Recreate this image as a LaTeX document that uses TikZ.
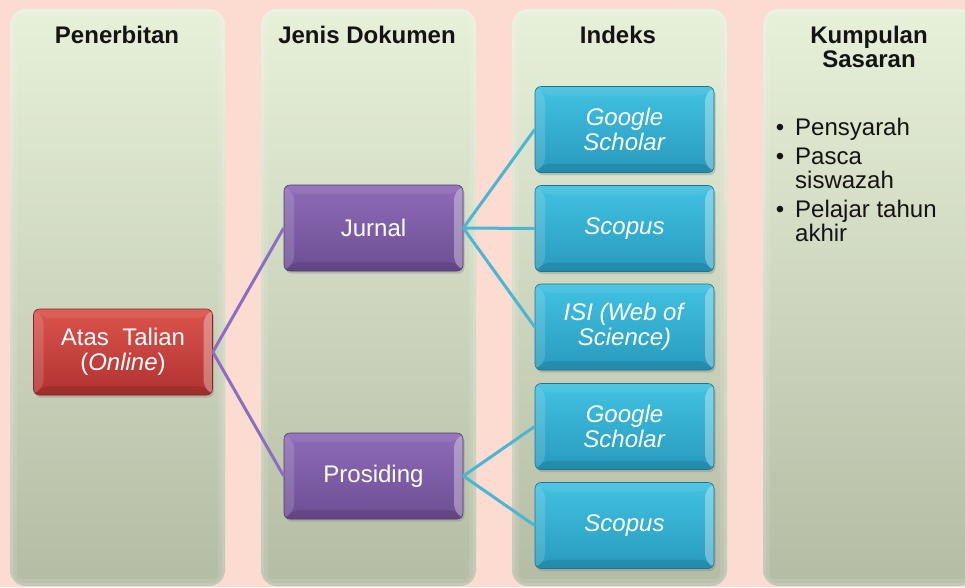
\documentclass[tikz,border=0pt]{standalone}
\usepackage{fontspec}
\setmainfont{Liberation Sans}
\usetikzlibrary{shadows}
\definecolor{bgpink}{RGB}{252,219,209}
\definecolor{coltop}{RGB}{231,240,216}
\definecolor{colbot}{RGB}{180,188,164}
\definecolor{redtop}{RGB}{220,84,78}
\definecolor{redbot}{RGB}{176,50,48}
\definecolor{purtop}{RGB}{143,108,183}
\definecolor{purbot}{RGB}{108,78,148}
\definecolor{cyantop}{RGB}{66,194,226}
\definecolor{cyanbot}{RGB}{40,154,190}
\definecolor{purline}{RGB}{140,110,192}
\definecolor{cyanline}{RGB}{74,182,212}
\tikzset{
  colbox/.style={rounded corners=16pt, top color=coltop, bottom color=colbot},
  colglowa/.style={draw=white, draw opacity=0.10, line width=14pt, rounded corners=11pt},
  colglowb/.style={draw=white, draw opacity=0.12, line width=6pt, rounded corners=14pt},
  hdr/.style={font=\fontsize{24}{24}\selectfont\bfseries, anchor=base, text=black!92, inner sep=0pt},
  itm/.style={font=\fontsize{24}{24}\selectfont, text=black!92, inner sep=0pt},
  bevelbox/.style={rounded corners=6pt, minimum width=179pt, minimum height=86pt,
    inner sep=0pt, text=white, align=center,
    font=\fontsize{24}{25}\selectfont,
    drop shadow={shadow xshift=1.5pt, shadow yshift=-2.5pt, opacity=0.35},
    path picture={
      \fill[white, opacity=0.14] (path picture bounding box.north west)
        -- ([shift={(10pt,-9pt)}]path picture bounding box.north west)
        -- ([shift={(10pt,9pt)}]path picture bounding box.south west)
        -- (path picture bounding box.south west) -- cycle;
      \fill[white, opacity=0.33] (path picture bounding box.north east)
        -- ([shift={(-9pt,-9pt)}]path picture bounding box.north east)
        -- ([shift={(-9pt,9pt)}]path picture bounding box.south east)
        -- (path picture bounding box.south east) -- cycle;
      \fill[white, opacity=0.07] (path picture bounding box.north west)
        -- (path picture bounding box.north east)
        -- ([shift={(-9pt,-9pt)}]path picture bounding box.north east)
        -- ([shift={(10pt,-9pt)}]path picture bounding box.north west) -- cycle;
      \fill[black, opacity=0.10] (path picture bounding box.south west)
        -- (path picture bounding box.south east)
        -- ([shift={(-9pt,9pt)}]path picture bounding box.south east)
        -- ([shift={(10pt,9pt)}]path picture bounding box.south west) -- cycle;
    }},
  redbox/.style={bevelbox, top color=redtop, bottom color=redbot, draw=redbot!75!black, line width=0.6pt},
  purbox/.style={bevelbox, top color=purtop, bottom color=purbot, draw=purbot!75!black, line width=0.6pt},
  cyanbox/.style={bevelbox, top color=cyantop, bottom color=cyanbot, draw=cyanbot!75!black, line width=0.6pt},
  purcon/.style={draw=purline, line width=3pt},
  cyancon/.style={draw=cyanline, line width=3pt},
}
\begin{document}
\begin{tikzpicture}[x=1pt, y=-1pt]
  \useasboundingbox (0,0) rectangle (965,587);
  \clip (0,0) rectangle (965,587);
  \fill[bgpink] (0,0) rectangle (965,587);
  % columns
  \path[colbox] (10,9) rectangle (225,586);
  \path[colbox] (261,9) rectangle (476,586);
  \path[colbox] (512,9) rectangle (727,586);
  \path[colbox] (763,9) rectangle (975,586);
  \begin{scope}
    \clip[rounded corners=16pt] (10,9) rectangle (225,586);
    \path[colglowa] (10,9) rectangle (225,586);
    \path[colglowb] (10,9) rectangle (225,586);
  \end{scope}
  \begin{scope}
    \clip[rounded corners=16pt] (261,9) rectangle (476,586);
    \path[colglowa] (261,9) rectangle (476,586);
    \path[colglowb] (261,9) rectangle (476,586);
  \end{scope}
  \begin{scope}
    \clip[rounded corners=16pt] (512,9) rectangle (727,586);
    \path[colglowa] (512,9) rectangle (727,586);
    \path[colglowb] (512,9) rectangle (727,586);
  \end{scope}
  \begin{scope}
    \clip[rounded corners=16pt] (763,9) rectangle (975,586);
    \path[colglowa] (763,9) rectangle (975,586);
    \path[colglowb] (763,9) rectangle (975,586);
  \end{scope}
  % headers
  \node[hdr] (h1) at (117,43) {Penerbitan};
  \node[hdr] (h2) at (367,43) {Jenis Dokumen};
  \node[hdr] (h3) at (618,43) {Indeks};
  \node[hdr] (h4a) at (869,43) {Kumpulan};
  \node[hdr] (h4b) at (869,67) {Sasaran};
  % boxes
  \node[redbox] (atas) at (123,352) {Atas~~Talian\\(\textit{Online})};
  \node[purbox] (jurnal) at (373.5,228) {Jurnal};
  \node[purbox] (pros) at (373.5,476) {Prosiding};
  \node[cyanbox] (gs1) at (624.5,129.5) {\textit{Google}\\\textit{Scholar}};
  \node[cyanbox] (sc1) at (624.5,228.5) {\textit{Scopus}};
  \node[cyanbox] (isi) at (624.5,327) {\textit{ISI (Web of}\\\textit{Science)}};
  \node[cyanbox] (gs2) at (624.5,426.5) {\textit{Google}\\\textit{Scholar}};
  \node[cyanbox] (sc2) at (624.5,525.5) {\textit{Scopus}};
  % connectors
  \draw[purcon] (atas.east) -- (jurnal.west);
  \draw[purcon] (atas.east) -- (pros.west);
  \draw[cyancon] (jurnal.east) -- (gs1.west);
  \draw[cyancon] (jurnal.east) -- (sc1.west);
  \draw[cyancon] (jurnal.east) -- (isi.west);
  \draw[cyancon] (pros.east) -- (gs2.west);
  \draw[cyancon] (pros.east) -- (sc2.west);
  % bullet list
  \node[itm, anchor=base] (b1) at (780,135) {•};
  \node[itm, anchor=base west] (t1) at (795,135) {Pensyarah};
  \node[itm, anchor=base] (b2) at (780,164) {•};
  \node[itm, anchor=base west] (t2a) at (795,164) {Pasca};
  \node[itm, anchor=base west] (t2b) at (795,188) {siswazah};
  \node[itm, anchor=base] (b3) at (780,217) {•};
  \node[itm, anchor=base west] (t3a) at (795,217) {Pelajar tahun};
  \node[itm, anchor=base west] (t3b) at (795,241) {akhir};
\end{tikzpicture}
\end{document}
